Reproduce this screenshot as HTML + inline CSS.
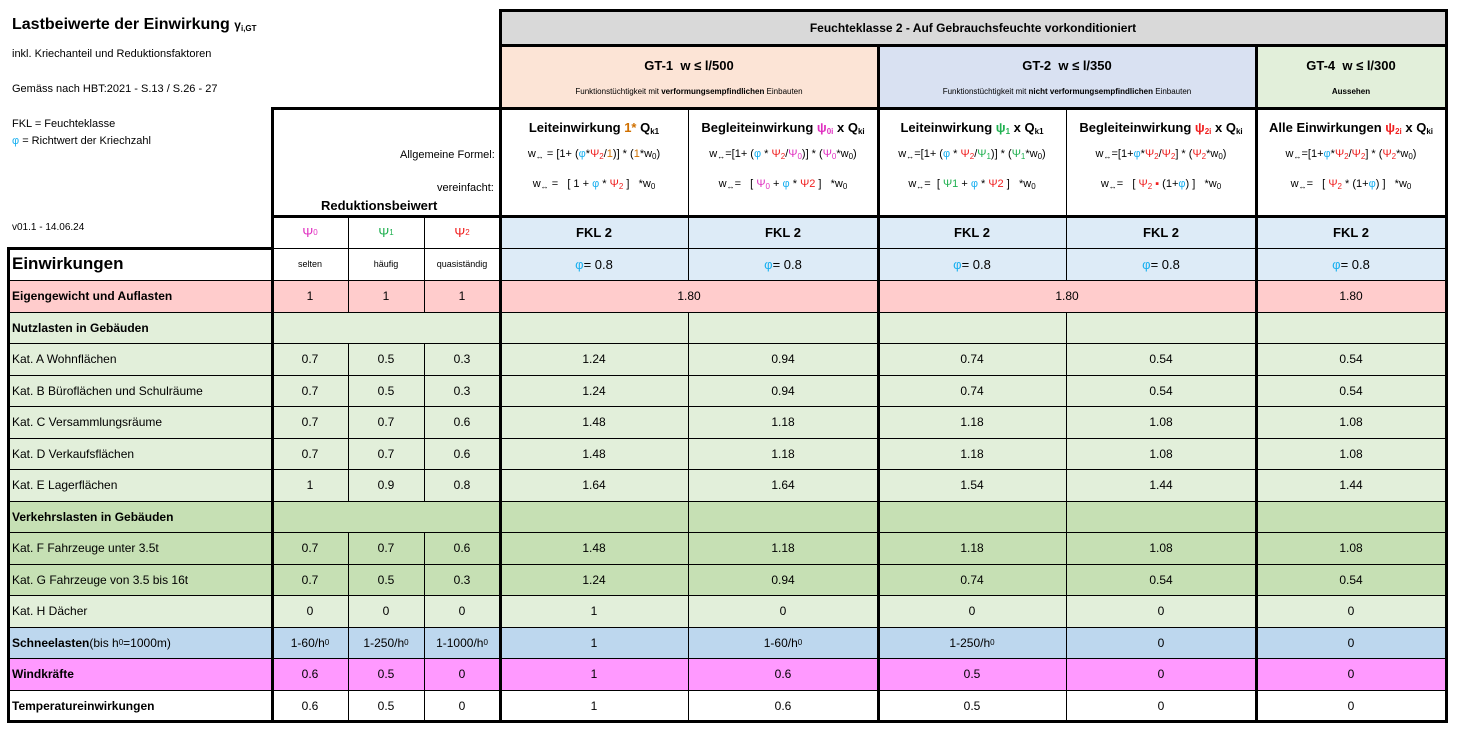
<!DOCTYPE html>
<html><head><meta charset="utf-8">
<style>
html,body{margin:0;padding:0;background:#fff;}
body{width:1458px;height:734px;position:relative;overflow:hidden;font-family:"Liberation Sans",sans-serif;color:#000;}
.c{position:absolute;display:flex;align-items:center;justify-content:center;text-align:center;font-size:12px;box-sizing:border-box;white-space:nowrap;}
.l{justify-content:flex-start;padding-left:4px;}
.b{font-weight:bold;}
.ln{position:absolute;background:#000;}
.t{position:absolute;white-space:nowrap;}
sub{font-size:8px;vertical-align:-2px;}
.cy{color:#1ab0f0}.mg{color:#e030c0}.gr{color:#20b050}.rd{color:#f02020}.or{color:#d07000}
</style></head><body>
<div class="t b" style="left:12px;top:16px;font-size:16px;">Lastbeiwerte der Einwirkung <span style="font-size:12px">γ<sub>i,GT</sub></span></div>
<div class="t" style="left:12px;top:48px;font-size:11px;">inkl. Kriechanteil und Reduktionsfaktoren</div>
<div class="t" style="left:12px;top:83px;font-size:11px;">Gemäss nach HBT:2021 - S.13 / S.26 - 27</div>
<div class="t" style="left:12px;top:118px;font-size:11px;">FKL = Feuchteklasse</div>
<div class="t" style="left:12px;top:135px;font-size:11px;"><span class="cy">φ</span> = Richtwert der Kriechzahl</div>
<div class="t" style="left:12px;top:222px;font-size:10px;">v01.1 - 14.06.24</div>

<div class="c" style="left:500px;top:10px;width:946px;height:35px;background:#d9d9d9;font-size:12px;font-weight:bold;">Feuchteklasse 2 - Auf Gebrauchsfeuchte vorkonditioniert</div>
<div class="c" style="left:500px;top:45px;width:378px;height:63px;background:#fce4d6;flex-direction:column;"><div class="b" style="font-size:13px;margin-bottom:14px">GT-1&nbsp; w ≤ l/500</div><div style="font-size:8px">Funktionstüchtigkeit mit <b>verformungsempfindlichen</b> Einbauten</div></div>
<div class="c" style="left:878px;top:45px;width:378px;height:63px;background:#d9e1f2;flex-direction:column;"><div class="b" style="font-size:13px;margin-bottom:14px">GT-2&nbsp; w ≤ l/350</div><div style="font-size:8px">Funktionstüchtigkeit mit <b>nicht verformungsempfindlichen</b> Einbauten</div></div>
<div class="c" style="left:1256px;top:45px;width:190px;height:63px;background:#e2efda;flex-direction:column;"><div class="b" style="font-size:13px;margin-bottom:14px">GT-4&nbsp; w ≤ l/300</div><div class="b" style="font-size:8px">Aussehen</div></div>

<div class="t" style="left:400px;top:149px;font-size:11px;">Allgemeine Formel:</div>
<div class="t" style="left:437px;top:182px;font-size:11px;">vereinfacht:</div>
<div class="t b" style="left:321px;top:198px;font-size:13px;">Reduktionsbeiwert</div>

<div class="c" style="left:500px;top:108px;width:188px;height:108px;flex-direction:column;justify-content:flex-start;padding-top:12px;">
<div class="b" style="font-size:13px">Leiteinwirkung <span class="or">1*</span> Q<sub>k1</sub></div>
<div style="font-size:11px;margin-top:12px">w<sub>↔</sub> = [1+ (<span class="cy">φ</span>*<span class="rd">Ψ<sub>2</sub></span>/<span class="or">1</span>)] * (<span class="or">1</span>*w<sub>0</sub>)</div>
<div style="font-size:11px;margin-top:17px">w<sub>↔</sub> = &nbsp; [ 1 + <span class="cy">φ</span> * <span class="rd">Ψ<sub>2</sub></span> ] &nbsp; *w<sub>0</sub></div></div>
<div class="c" style="left:688px;top:108px;width:190px;height:108px;flex-direction:column;justify-content:flex-start;padding-top:12px;">
<div class="b" style="font-size:13px">Begleiteinwirkung <span class="mg">ψ<sub>0i</sub></span> x Q<sub>ki</sub></div>
<div style="font-size:11px;margin-top:12px">w<sub>↔</sub>=[1+ (<span class="cy">φ</span> * <span class="rd">Ψ<sub>2</sub></span>/<span class="mg">Ψ<sub>0</sub></span>)] * (<span class="mg">Ψ<sub>0</sub></span>*w<sub>0</sub>)</div>
<div style="font-size:11px;margin-top:17px">w<sub>↔</sub>= &nbsp; [ <span class="mg">Ψ<sub>0</sub></span> + <span class="cy">φ</span> * <span class="rd">Ψ2</span> ] &nbsp; *w<sub>0</sub></div></div>
<div class="c" style="left:878px;top:108px;width:188px;height:108px;flex-direction:column;justify-content:flex-start;padding-top:12px;">
<div class="b" style="font-size:13px">Leiteinwirkung <span class="gr">ψ<sub>1</sub></span> x Q<sub>k1</sub></div>
<div style="font-size:11px;margin-top:12px">w<sub>↔</sub>=[1+ (<span class="cy">φ</span> * <span class="rd">Ψ<sub>2</sub></span>/<span class="gr">Ψ<sub>1</sub></span>)] * (<span class="gr">Ψ<sub>1</sub></span>*w<sub>0</sub>)</div>
<div style="font-size:11px;margin-top:17px">w<sub>↔</sub>= &nbsp;[ <span class="gr">Ψ1</span> + <span class="cy">φ</span> * <span class="rd">Ψ2</span> ] &nbsp; *w<sub>0</sub></div></div>
<div class="c" style="left:1066px;top:108px;width:190px;height:108px;flex-direction:column;justify-content:flex-start;padding-top:12px;">
<div class="b" style="font-size:13px">Begleiteinwirkung <span class="rd">ψ<sub>2i</sub></span> x Q<sub>ki</sub></div>
<div style="font-size:11px;margin-top:12px">w<sub>↔</sub>=[1+<span class="cy">φ</span>*<span class="rd">Ψ<sub>2</sub></span>/<span class="rd">Ψ<sub>2</sub></span>] * (<span class="rd">Ψ<sub>2</sub></span>*w<sub>0</sub>)</div>
<div style="font-size:11px;margin-top:17px">w<sub>↔</sub>= &nbsp; [ <span class="rd">Ψ<sub>2</sub> ▪</span> (1+<span class="cy">φ</span>) ] &nbsp; *w<sub>0</sub></div></div>
<div class="c" style="left:1256px;top:108px;width:190px;height:108px;flex-direction:column;justify-content:flex-start;padding-top:12px;">
<div class="b" style="font-size:13px">Alle Einwirkungen <span class="rd">ψ<sub>2i</sub></span> x Q<sub>ki</sub></div>
<div style="font-size:11px;margin-top:12px">w<sub>↔</sub>=[1+<span class="cy">φ</span>*<span class="rd">Ψ<sub>2</sub></span>/<span class="rd">Ψ<sub>2</sub></span>] * (<span class="rd">Ψ<sub>2</sub></span>*w<sub>0</sub>)</div>
<div style="font-size:11px;margin-top:17px">w<sub>↔</sub>= &nbsp; [ <span class="rd">Ψ<sub>2</sub></span> * (1+<span class="cy">φ</span>) ] &nbsp; *w<sub>0</sub></div></div>

<div class="c mg" style="left:272px;top:216px;width:76px;height:32px;font-size:13px;">Ψ<sub>0</sub></div>
<div class="c gr" style="left:348px;top:216px;width:76px;height:32px;font-size:13px;">Ψ<sub>1</sub></div>
<div class="c rd" style="left:424px;top:216px;width:76px;height:32px;font-size:13px;">Ψ<sub>2</sub></div>
<div class="c" style="left:272px;top:248px;width:76px;height:32px;font-size:9px;">selten</div>
<div class="c" style="left:348px;top:248px;width:76px;height:32px;font-size:9px;">häufig</div>
<div class="c" style="left:424px;top:248px;width:76px;height:32px;font-size:9px;">quasiständig</div>
<div class="c l b" style="left:8px;top:248px;width:264px;height:32px;font-size:17px;">Einwirkungen</div>

<script>
const colX=[500,688,878,1066,1256,1446];
const colNames=['gt1-leit','gt1-begleit','gt2-leit','gt2-begleit','gt4-alle'];
function mk(x,y,w,h,html,cls,bg,name){
  const d=document.createElement('div');
  d.className='c '+(cls||'');
  d.style.cssText='left:'+x+'px;top:'+y+'px;width:'+w+'px;height:'+h+'px;'+(bg?'background:'+bg+';':'');
  d.innerHTML=html;
  
  
  document.body.appendChild(d);
  return d;
}
// FKL rows
for(let i=0;i<5;i++){
  mk(colX[i],216,colX[i+1]-colX[i],32,'FKL 2','b','#ddebf7','fkl-'+colNames[i]).style.fontSize='13px';
  mk(colX[i],248,colX[i+1]-colX[i],32,'<span class="cy">φ</span> = 0.8','','#ddebf7','phi-'+colNames[i]).style.fontSize='13px';
}
// data
const rowLabels=['<b>Eigengewicht und Auflasten</b>','<b>Nutzlasten in Gebäuden</b>','Kat. A Wohnflächen','Kat. B Büroflächen und Schulräume','Kat. C Versammlungsräume','Kat. D Verkaufsflächen','Kat. E Lagerflächen','<b>Verkehrslasten in Gebäuden</b>','Kat. F Fahrzeuge unter 3.5t','Kat. G Fahrzeuge von 3.5 bis 16t','Kat. H Dächer','<b>Schneelasten</b> (bis h<sub>0</sub>=1000m)','<b>Windkräfte</b>','<b>Temperatureinwirkungen</b>'];
const rowKeys=['eigengewicht','nutzlasten','kat-a','kat-b','kat-c','kat-d','kat-e','verkehrslasten','kat-f','kat-g','kat-h','schneelasten','windkraefte','temperatur'];
const rowColors=['#ffcccc','#e2efda','#e2efda','#e2efda','#e2efda','#e2efda','#e2efda','#c6e0b4','#c6e0b4','#c6e0b4','#e2efda','#bdd7ee','#ff99ff','#ffffff'];
const psi0=['1','','0.7','0.7','0.7','0.7','1','','0.7','0.7','0','1-60/h<sub>0</sub>','0.6','0.6'];
const psi1=['1','','0.5','0.5','0.7','0.7','0.9','','0.7','0.5','0','1-250/h<sub>0</sub>','0.5','0.5'];
const psi2=['1','','0.3','0.3','0.6','0.6','0.8','','0.6','0.3','0','1-1000/h<sub>0</sub>','0','0'];
const gt1Leit=['1.80','','1.24','1.24','1.48','1.48','1.64','','1.48','1.24','1','1','1','1'];
const gt1Begleit=['','','0.94','0.94','1.18','1.18','1.64','','1.18','0.94','0','1-60/h<sub>0</sub>','0.6','0.6'];
const gt2Leit=['1.80','','0.74','0.74','1.18','1.18','1.54','','1.18','0.74','0','1-250/h<sub>0</sub>','0.5','0.5'];
const gt2Begleit=['','','0.54','0.54','1.08','1.08','1.44','','1.08','0.54','0','0','0','0'];
const gt4Alle=['1.80','','0.54','0.54','1.08','1.08','1.44','','1.08','0.54','0','0','0','0'];
const valueCols=[gt1Leit,gt1Begleit,gt2Leit,gt2Begleit,gt4Alle];
const rowTop=280, rowH=31.5;
function rowY(i){return Math.round(rowTop+i*rowH);}
const vlines=[];
for(let r=0;r<rowLabels.length;r++){
  const y=rowY(r), h=rowY(r+1)-y, bg=rowColors[r], key=rowKeys[r];
  mk(8,y,264,h,rowLabels[r],'l',bg,'label-'+key).style.fontSize='12px';
  const merged = psi0[r]===''&&psi1[r]==='';
  if(merged){ mk(272,y,228,h,'','',bg,'psi-'+key); }
  else{
    mk(272,y,76,h,psi0[r],'',bg,'psi0-'+key);
    mk(348,y,76,h,psi1[r],'',bg,'psi1-'+key);
    mk(424,y,76,h,psi2[r],'',bg,'psi2-'+key);
    vlines.push([348,y,h],[424,y,h]);
  }
  if(r===0){
    mk(500,y,378,h,gt1Leit[r],'',bg,'val-gt1-'+key);
    mk(878,y,378,h,gt2Leit[r],'',bg,'val-gt2-'+key);
    mk(1256,y,190,h,gt4Alle[r],'',bg,'val-gt4-'+key);
  } else {
    for(let c=0;c<5;c++) mk(colX[c],y,colX[c+1]-colX[c],h,valueCols[c][r],'',bg,'val-'+colNames[c]+'-'+key);
    vlines.push([688,y,h],[1066,y,h]);
  }
}
function line(x,y,w,h,name){
  const d=document.createElement('div');
  d.className='ln';
  d.style.cssText='left:'+x+'px;top:'+y+'px;width:'+w+'px;height:'+h+'px;';
  
  
  document.body.appendChild(d);
}
// thin lines
vlines.forEach(v=>line(v[0],v[1],1,v[2],'grid-v'));
line(348,216,1,64,'grid-v');line(424,216,1,64,'grid-v');
line(688,108,1,172,'grid-v');line(1066,108,1,172,'grid-v');
line(272,248,1174,1,'grid-h');
for(let r=1;r<rowLabels.length;r++) line(8,rowY(r),1438,1,'grid-h');
line(8,280,1438,1,'grid-h');
// thick lines
line(499,9,948,3,'border-top');
line(499,44,948,3,'border-fk');
line(271,107,1176,3,'border-gt');
line(271,215,1176,3,'border-formula');
line(7,247,266,3,'border-einw');
line(7,720,1440,3,'border-bottom');
line(7,247,3,476,'border-left');
line(271,107,3,616,'border-psi');
line(499,9,3,714,'border-gt1');
line(877,44,3,679,'border-gt2');
line(1255,44,3,679,'border-gt4');
line(1445,9,3,714,'border-right');
</script>
</body></html>
